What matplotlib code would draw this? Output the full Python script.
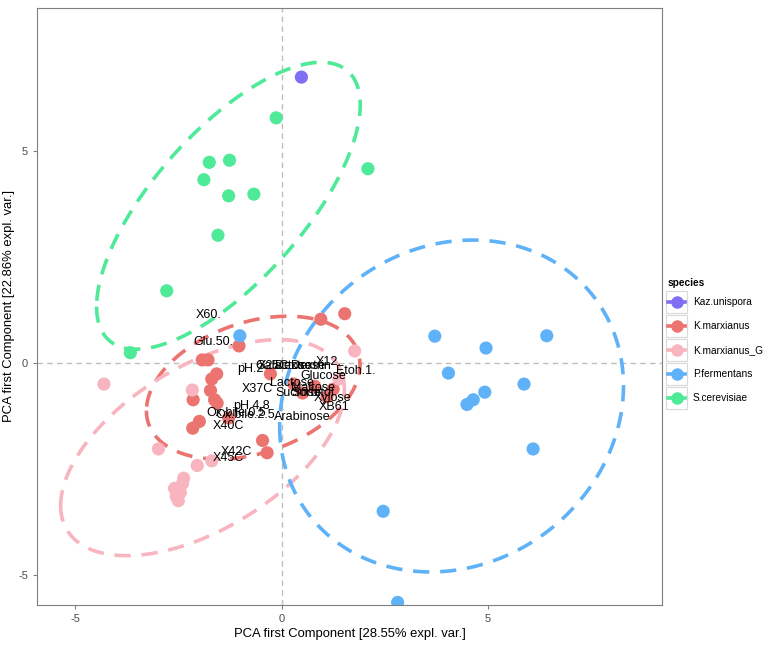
import numpy as np
import matplotlib
matplotlib.use("Agg")
import matplotlib.pyplot as plt
from matplotlib.lines import Line2D
from matplotlib.patches import Rectangle

plt.rcParams['font.family'] = ['Liberation Sans', 'DejaVu Sans']
plt.rcParams['axes.unicode_minus'] = False

# sample scores per species (PC1, PC2)
species = ["Kaz.unispora", "K.marxianus", "K.marxianus_G", "P.fermentans", "S.cerevisiae"]
colors = ["#7F6FF2", "#EB7470", "#F8B4BF", "#5FB2F7", "#4FEA98"]

kaz_x = [0.48]
kaz_y = [6.74]

kmarx_x = [-1.03, -1.92, -1.78, -1.57, -1.69, -0.27, -1.72, -2.14, -1.62, -1.56,
           -1.28, -1.99, -2.15, -0.46, -0.35, 0.95, 1.53, 0.51, 0.80, 1.10, 0.30, 1.25]
kmarx_y = [0.40, 0.07, 0.07, -0.26, -0.38, -0.26, -0.65, -0.87, -0.87, -0.95,
           -1.30, -1.38, -1.54, -1.83, -2.12, 1.03, 1.16, -0.71, -0.55, -0.80, -0.50, -0.62]

kmarxg_x = [1.77, 1.39, -4.30, -2.16, -2.98, -1.69, -2.04, -2.37, -2.59, -2.45, -2.50, -2.40, -2.55]
kmarxg_y = [0.28, -0.38, -0.50, -0.64, -2.03, -2.31, -2.42, -2.72, -2.96, -3.06, -3.25, -2.85, -3.15]

pferm_x = [-1.01, 3.71, 4.95, 6.42, 4.04, 5.87, 4.92, 4.64, 4.49, 2.46, 2.81, 6.09]
pferm_y = [0.64, 0.63, 0.35, 0.64, -0.24, -0.50, -0.69, -0.87, -0.98, -3.50, -5.65, -2.03]

scer_x = [-0.13, -1.75, -1.26, -1.88, -1.28, -0.67, 2.09, -1.54, -2.78, -3.66]
scer_y = [5.78, 4.73, 4.78, 4.32, 3.94, 3.98, 4.58, 3.01, 1.70, 0.24]

groups_x = [kaz_x, kmarx_x, kmarxg_x, pferm_x, scer_x]
groups_y = [kaz_y, kmarx_y, kmarxg_y, pferm_y, scer_y]

# variable labels (loadings)
var_names = ["X60.", "Glu.50.", "pH.2", "X25C", "Galactose", "Dextrose", "Dextrin",
             "X12.", "Etoh.1.", "Glucose", "Lactose", "Sucrose", "Maltose", "Sorbitol",
             "Xylose", "XB61", "X37C", "pH.4.8", "Ox.bile.0.5", "Ox.bile.2.5.",
             "Arabinose", "X40C", "X42C", "X45C"]
var_x = [-1.77, -1.65, -0.75, -0.20, 0.05, 0.45, 0.70, 1.14, 1.79, 1.02, 0.24, 0.40,
         0.77, 0.75, 1.23, 1.28, -0.58, -0.73, -1.10, -0.85, 0.51, -1.28, -1.09, -1.28]
var_y = [1.13, 0.50, -0.14, -0.07, -0.07, -0.07, -0.07, 0.02, -0.19, -0.31, -0.47, -0.71,
         -0.59, -0.71, -0.83, -1.04, -0.61, -1.01, -1.17, -1.24, -1.27, -1.49, -2.10, -2.24]

ellipse_prob = 0.88

W, H = 773, 666
fig = plt.figure(figsize=(W / 100, H / 100), dpi=100)
ax = fig.add_axes([37 / W, 1 - 605 / H, 625 / W, 597 / H])

ax.axhline(0, color="#BEBEBE", lw=1, ls=(0, (4, 3)), zorder=0)
ax.axvline(0, color="#BEBEBE", lw=1, ls=(0, (4, 3)), zorder=0)

# normal-probability ellipses, same recipe as ggbiplot
theta = np.linspace(-np.pi, np.pi, 200)
circle = np.column_stack([np.cos(theta), np.sin(theta)])
ed = np.sqrt(-2 * np.log(1 - ellipse_prob))
for gx, gy, c in zip(groups_x, groups_y, colors):
    if len(gx) <= 2:
        continue
    pts = np.column_stack([gx, gy])
    sigma = np.cov(pts, rowvar=False)
    L = np.linalg.cholesky(sigma)
    ell = circle @ L.T * ed + pts.mean(axis=0)
    ax.plot(ell[:, 0], ell[:, 1], color=c, lw=2.6, ls=(0, (4.5, 3)), zorder=1)

for gx, gy, c in zip(groups_x, groups_y, colors):
    ax.scatter(gx, gy, s=90, color=c, edgecolors="none", zorder=2)

for name, vx, vy in zip(var_names, var_x, var_y):
    ax.text(vx, vy, name, ha="center", va="center", fontsize=9, color="black", zorder=3)

ax.set_xlim(-5.92, 9.21)
ax.set_ylim(-5.71, 8.37)
ax.set_xticks([-5, 0, 5])
ax.set_yticks([-5, 0, 5])
ax.tick_params(colors="#7F7F7F", labelcolor="#4D4D4D", labelsize=8, length=3)
for s in ax.spines.values():
    s.set_color("#7F7F7F")
ax.set_xlabel("PCA first Component [28.55% expl. var.]", fontsize=9.4, labelpad=3)
ax.set_ylabel("PCA first Component [22.86% expl. var.]", fontsize=9.4, labelpad=2)

# legend drawn by hand in figure pixels (ggplot style keys)
fig.text(668 / W, 1 - 283 / H, "species", fontsize=7.3, fontweight="bold", va="center")
for i, (name, c) in enumerate(zip(species, colors)):
    yc = 1 - (302 + 24 * i) / H
    fig.patches.append(Rectangle((666 / W, yc - 11 / H), 21 / W, 22 / H,
                                 transform=fig.transFigure, facecolor="white",
                                 edgecolor="#D9D9D9", lw=0.8))
    fig.add_artist(Line2D([668 / W, 685 / W], [yc, yc], color=c, lw=2.6))
    fig.add_artist(Line2D([676.5 / W], [yc], color=c, marker="o", ms=9,
                          markeredgecolor="none", lw=0))
    fig.text(693 / W, yc, name, fontsize=7.3, va="center")

fig.savefig("out.png", dpi=100)
